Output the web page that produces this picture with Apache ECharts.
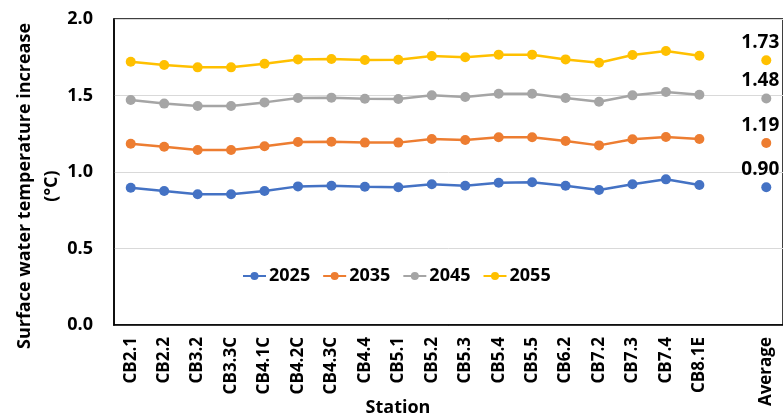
<!DOCTYPE html>
<html><head><meta charset="utf-8">
<script src="https://cdn.jsdelivr.net/npm/echarts@6/dist/echarts.min.js"></script>
<style>html,body{margin:0;padding:0;background:#fff;overflow:hidden}#c{width:783px;height:419px}</style>
</head><body><div id="c"></div>
<script>
const stations = ['CB2.1','CB2.2','CB3.2','CB3.3C','CB4.1C','CB4.2C','CB4.3C','CB4.4','CB5.1','CB5.2','CB5.3','CB5.4','CB5.5','CB6.2','CB7.2','CB7.3','CB7.4','CB8.1E'];
const averageLabel = 'Average';
const years = ['2025','2035','2045','2055'];
const v2025 = [0.897,0.876,0.854,0.854,0.876,0.906,0.910,0.904,0.900,0.920,0.910,0.930,0.933,0.910,0.882,0.920,0.952,0.915];
const v2035 = [1.185,1.165,1.144,1.144,1.168,1.196,1.198,1.192,1.192,1.216,1.209,1.227,1.227,1.203,1.174,1.214,1.229,1.216];
const v2045 = [1.471,1.447,1.431,1.431,1.455,1.484,1.486,1.479,1.477,1.501,1.490,1.512,1.512,1.484,1.459,1.501,1.523,1.505];
const v2055 = [1.721,1.699,1.684,1.684,1.708,1.736,1.739,1.732,1.734,1.758,1.750,1.767,1.767,1.736,1.714,1.765,1.791,1.760];
const averages = [0.90, 1.19, 1.48, 1.73];
const yTicks = [0, 0.5, 1.0, 1.5, 2.0];
const colors = ['#4472C4','#ED7D31','#A5A5A5','#FFC000'];
const FONT = 'Open Sans';

const categories = stations.concat(['', averageLabel]);
const seriesVals = [v2025, v2035, v2045, v2055];

const chart = echarts.init(document.getElementById('c'));
chart.setOption({
  animation: false,
  textStyle: {fontFamily: FONT},
  grid: {left: 114, top: 19, bottom: 94, right: -7, show: true, borderColor: '#000', borderWidth: 1.5, containLabel: false},
  legend: {
    left: 237, top: 262, itemWidth: 23, itemHeight: 10, itemGap: 12,
    textStyle: {fontSize: 18, fontWeight: 'bold', color: '#000', fontFamily: FONT, padding: [0,0,0,-2]},
    data: years
  },
  xAxis: {
    type: 'category', data: categories, boundaryGap: true,
    axisLine: {show: true, lineStyle: {color: '#000', width: 1.5}},
    axisTick: {show: false},
    axisLabel: {rotate: 90, interval: 0, margin: 12, fontSize: 17, fontWeight: 'bold', color: '#000', fontFamily: FONT}
  },
  yAxis: {
    type: 'value', min: yTicks[0], max: yTicks[yTicks.length-1], interval: 0.5,
    axisLine: {show: true, lineStyle: {color: '#000', width: 1.5}},
    axisTick: {show: false},
    splitLine: {lineStyle: {color: '#D9D9D9', width: 1}},
    axisLabel: {margin: 21, fontSize: 18, fontWeight: 'bold', color: '#000', fontFamily: FONT, formatter: v => v.toFixed(1)}
  },
  graphic: [
    {type: 'text', x: 38, y: 186, rotation: Math.PI/2,
     style: {text: 'Surface water temperature increase\n(°C)', fill: '#000', font: 'bold 18px "Open Sans"', textAlign: 'center', textVerticalAlign: 'middle', lineHeight: 27}},
    {type: 'text', x: 398, y: 408,
     style: {text: 'Station', fill: '#000', font: 'bold 18px "Open Sans"', textAlign: 'center', textVerticalAlign: 'middle'}}
  ],
  series: years.map((y, i) => ({
    name: y, type: 'line', color: colors[i],
    symbol: 'circle', symbolSize: 10, connectNulls: false,
    lineStyle: {width: 2.5, color: colors[i]},
    itemStyle: {color: colors[i]},
    data: seriesVals[i].concat([null, {
      value: averages[i],
      label: {show: true, position: 'top', distance: 3, offset: [-6, 0], fontSize: 19, fontWeight: 'bold', color: '#000', fontFamily: FONT,
              formatter: p => Number(p.value).toFixed(2)}
    }])
  }))
});
</script></body></html>
